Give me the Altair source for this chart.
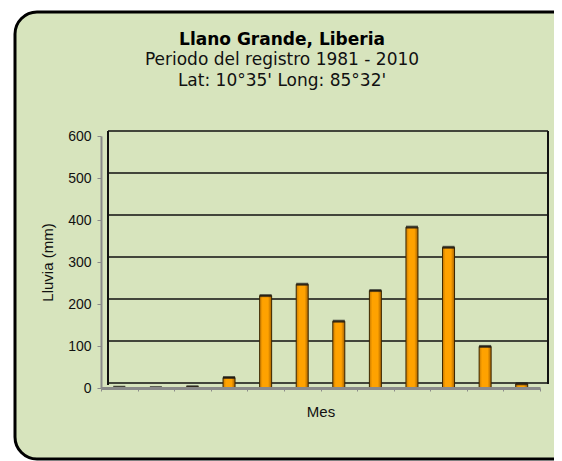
import altair as alt
import pandas as pd

# ---- data ----
meses = ["Ene", "Feb", "Mar", "Abr", "May", "Jun", "Jul", "Ago", "Set", "Oct", "Nov", "Dic"]
lluvia = [2, 1, 3, 25, 220, 247, 159, 232, 383, 335, 99, 10]
y_ticks = [0, 100, 200, 300, 400, 500, 600]
titulo = "Llano Grande, Liberia"
subtitulo1 = "Periodo del registro 1981 - 2010"
subtitulo2 = "Lat: 10°35' Long: 85°32'"

df = pd.DataFrame({"mes": meses, "lluvia": lluvia})
grid_df = pd.DataFrame({"v": y_ticks})
one = pd.DataFrame({"a": [0]})

W, H = 439, 252
yscale = alt.Scale(domain=[0, 600], nice=False)
xscale = alt.Scale(paddingInner=0, paddingOuter=0)

# panel background (rounded box)
panel = alt.Chart(one).mark_rect(
    fill="#D7E4BD", stroke="#000000", strokeWidth=3, cornerRadius=22
).encode(
    x=alt.value(-86), x2=alt.value(478), y=alt.value(-124), y2=alt.value(323)
)

# back-wall gridlines (3D offset)
grid = alt.Chart(grid_df).mark_rule(color="#111111", strokeWidth=1.6, yOffset=-5).encode(
    y=alt.Y("v:Q", scale=yscale, axis=alt.Axis(
        values=y_ticks, title="Lluvia (mm)", grid=False,
        domainColor="#8a8a8a", domainWidth=2, tickColor="#8a8a8a", tickSize=4,
        labelPadding=6, labelFont="Liberation Sans", labelFontSize=14,
        labelColor="#111111", titleFont="Liberation Sans", titleFontSize=15,
        titleFontWeight="normal", titleColor="#111111", titlePadding=12, zindex=1)),
    x=alt.value(7), x2=alt.value(447),
)

wall_l = alt.Chart(one).mark_rule(color="#111111", strokeWidth=2, yOffset=-5, y2Offset=-3).encode(
    x=alt.value(7), y=alt.datum(600, scale=yscale), y2=alt.datum(0)
)
wall_r = alt.Chart(one).mark_rule(color="#111111", strokeWidth=2, yOffset=-5, y2Offset=-4).encode(
    x=alt.value(447), y=alt.datum(600, scale=yscale), y2=alt.datum(0)
)

bars = alt.Chart(df).mark_bar(
    width=12,
    stroke="#3a2600", strokeWidth=1,
    color=alt.Gradient(
        gradient="linear", x1=0, x2=1, y1=0, y2=0,
        stops=[alt.GradientStop(color="#C77A00", offset=0),
               alt.GradientStop(color="#FFA200", offset=0.25),
               alt.GradientStop(color="#FFA200", offset=0.7),
               alt.GradientStop(color="#A86200", offset=1)],
    ),
).encode(
    x=alt.X("mes:N", sort=meses, scale=xscale, axis=alt.Axis(
        labels=False, title="Mes", tickBand="extent", tickColor="#8a8a8a",
        tickSize=3, domainColor="#8a8a8a", domainWidth=3,
        titleFont="Liberation Sans", titleFontSize=15, titleFontWeight="normal",
        titleColor="#111111", titlePadding=13, zindex=1)),
    y=alt.Y("lluvia:Q", scale=yscale),
)

caps = alt.Chart(df).mark_tick(size=12, thickness=3, color="#1a1a1a").encode(
    x=alt.X("mes:N", sort=meses, scale=xscale),
    y=alt.Y("lluvia:Q", scale=yscale),
)

t1 = alt.Chart(one).mark_text(font="DejaVu Sans", fontSize=17, fontWeight="bold",
                              color="#000000", baseline="alphabetic").encode(
    x=alt.value(181), y=alt.value(-91), text=alt.value(titulo))
t2 = alt.Chart(one).mark_text(font="DejaVu Sans", fontSize=17, color="#111111",
                              baseline="alphabetic").encode(
    x=alt.value(181), y=alt.value(-71), text=alt.value(subtitulo1))
t3 = alt.Chart(one).mark_text(font="DejaVu Sans", fontSize=17, color="#111111",
                              baseline="alphabetic").encode(
    x=alt.value(181), y=alt.value(-50), text=alt.value(subtitulo2))

chart = alt.layer(panel, grid, wall_l, wall_r, bars, caps, t1, t2, t3).properties(
    width=W, height=H, autosize="none",
    padding={"left": 93, "top": 128, "right": 14, "bottom": 73},
    background="#ffffff",
).configure_view(stroke=None)

chart.save("out.html", embed_options={"renderer": "svg", "actions": False})
